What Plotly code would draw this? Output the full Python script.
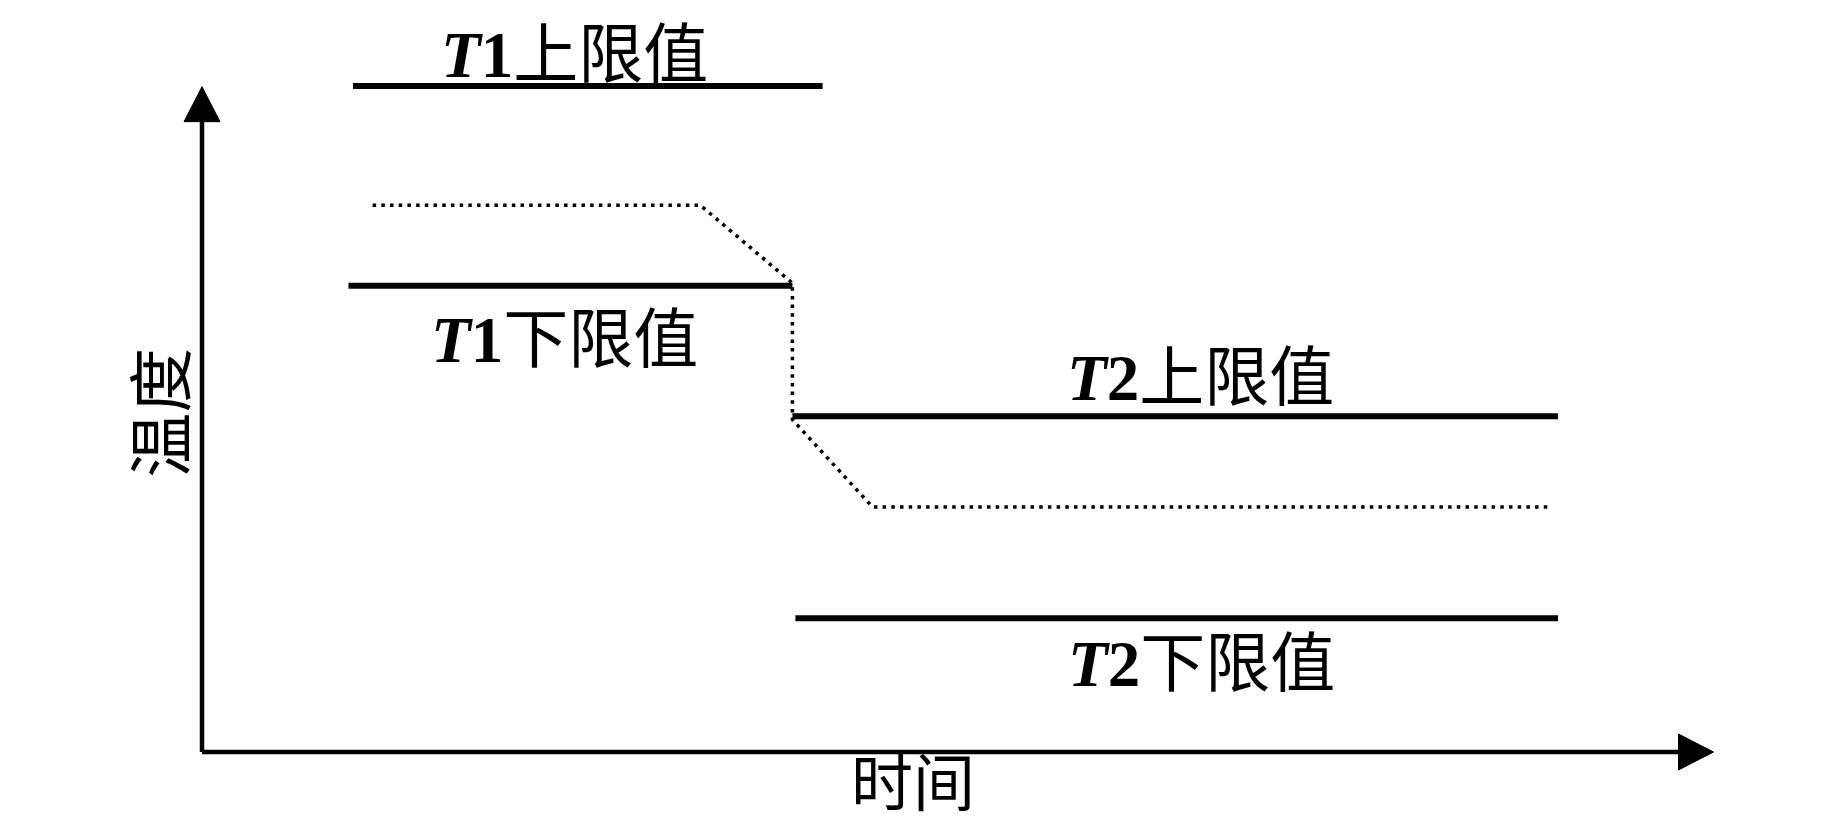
import plotly.graph_objects as go

# ---- data (time units 0..100, temperature units 0..100) ----
t1_upper_t = [10.0, 41.1]
t1_upper_v = [100.0, 100.0]
t1_lower_t = [9.7, 39.1]
t1_lower_v = [70.0, 70.0]
t2_upper_t = [39.1, 89.8]
t2_upper_v = [50.4, 50.4]
t2_lower_t = [39.3, 89.8]
t2_lower_v = [20.1, 20.1]
actual_t = [11.3, 33.0, 39.1, 39.1, 44.4, 89.4]
actual_v = [82.1, 82.1, 70.4, 49.9, 36.8, 36.8]

label_texts = ["T1上限值", "T1下限值", "T2上限值", "T2下限值"]
label_t = [24.7, 24.0, 66.1, 66.2]
label_v = [105.6, 62.8, 57.1, 14.1]

x_title = "时间"
y_title = "温度"
y_title_pos = (-3.0, 50.9)
axis_end_t = 100.1
axis_end_v = 99.9

# ---- geometry of the canvas ----
W, H = 1843, 827
PX_T = 15.1   # pixels per time unit
PX_V = 6.66   # pixels per temperature unit
ORIGIN_X, ORIGIN_Y = 202, 752
x_range = [-ORIGIN_X / PX_T, (W - ORIGIN_X) / PX_T]
y_range = [(ORIGIN_Y - H) / PX_V, ORIGIN_Y / PX_V]

BLACK = "#000000"
SERIF = "Liberation Serif"
CJK = "Noto Sans CJK SC"
LABEL_SIZE = 65

fig = go.Figure()

for xs, ys in [(t1_upper_t, t1_upper_v), (t1_lower_t, t1_lower_v),
               (t2_upper_t, t2_upper_v), (t2_lower_t, t2_lower_v)]:
    fig.add_trace(go.Scatter(x=xs, y=ys, mode="lines",
                             line=dict(color=BLACK, width=6),
                             hoverinfo="skip", showlegend=False))

fig.add_trace(go.Scatter(x=actual_t, y=actual_v, mode="lines",
                         line=dict(color=BLACK, width=3.5, dash="3.5px,5.2px"),
                         hoverinfo="skip", showlegend=False))

# axes lines
fig.add_trace(go.Scatter(x=[0, 0], y=[0, axis_end_v - 4], mode="lines",
                         line=dict(color=BLACK, width=4.5),
                         hoverinfo="skip", showlegend=False))
fig.add_trace(go.Scatter(x=[0, axis_end_t - 2], y=[0, 0], mode="lines",
                         line=dict(color=BLACK, width=4.5),
                         hoverinfo="skip", showlegend=False))

# arrow heads (sizes in px converted to data units)
head_len, head_half = 35, 18
fig.add_trace(go.Scatter(
    x=[-head_half / PX_T, head_half / PX_T, 0, -head_half / PX_T],
    y=[axis_end_v - head_len / PX_V, axis_end_v - head_len / PX_V, axis_end_v,
       axis_end_v - head_len / PX_V],
    mode="lines", fill="toself", fillcolor=BLACK,
    line=dict(color=BLACK, width=1), hoverinfo="skip", showlegend=False))
fig.add_trace(go.Scatter(
    x=[axis_end_t - head_len / PX_T, axis_end_t - head_len / PX_T, axis_end_t,
       axis_end_t - head_len / PX_T],
    y=[-head_half / PX_V, head_half / PX_V, 0, -head_half / PX_V],
    mode="lines", fill="toself", fillcolor=BLACK,
    line=dict(color=BLACK, width=1), hoverinfo="skip", showlegend=False))


def fmt(label):
    sym, num, rest = label[0], label[1], label[2:]
    return (f'<span style="font-family:{SERIF}"><b><i>{sym}</i>{num}</b></span>'
            f'{rest}')


annotations = []
for txt, tx, vy in zip(label_texts, label_t, label_v):
    annotations.append(dict(x=tx, y=vy, text=fmt(txt), showarrow=False,
                            xanchor="center", yanchor="middle",
                            font=dict(family=CJK, size=LABEL_SIZE, color=BLACK)))
# x title sits on the bottom edge of the canvas
annotations.append(dict(x=47.1, y=0, xref="x", yref="paper", yshift=1,
                        text=x_title, showarrow=False,
                        xanchor="center", yanchor="bottom",
                        font=dict(family=CJK, size=62, color=BLACK)))
annotations.append(dict(x=y_title_pos[0], y=y_title_pos[1], text=y_title,
                        showarrow=False, textangle=-90,
                        xanchor="center", yanchor="middle",
                        font=dict(family=CJK, size=65, color=BLACK)))

fig.update_layout(
    width=W, height=H,
    margin=dict(l=0, r=0, t=0, b=0),
    paper_bgcolor="white", plot_bgcolor="white",
    xaxis=dict(range=x_range, visible=False, fixedrange=True),
    yaxis=dict(range=y_range, visible=False, fixedrange=True),
    annotations=annotations,
    showlegend=False,
)

# remove the default 8px page margin so the figure fills the window exactly
fig.write_html("out.html",
               config={"displayModeBar": False},
               post_script="document.body.style.margin='0';"
                           "document.body.style.overflow='hidden';")
